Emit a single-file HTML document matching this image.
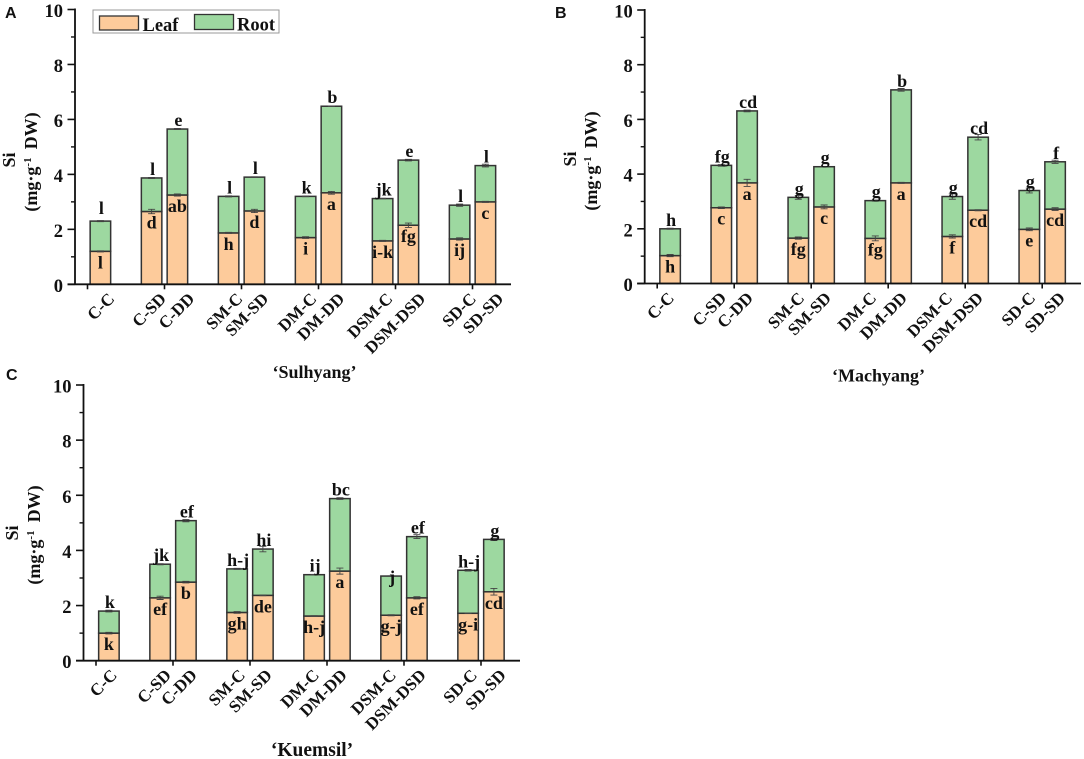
<!DOCTYPE html>
<html lang="en">
<head>
<meta charset="utf-8">
<title>Si content by treatment</title>
<style>
html,body{margin:0;padding:0;background:#fff;}
body{width:1084px;height:759px;overflow:hidden;}
svg{display:block;filter:blur(0.35px);}
text{font-family:"Liberation Serif",serif;font-weight:bold;fill:#111;}
.panel-letter{font-family:"Liberation Sans",sans-serif;font-size:16px;}
</style>
</head>
<body>
<svg id="chart" width="1084" height="759" viewBox="0 0 1084 759" xmlns="http://www.w3.org/2000/svg">
  <g>
    <rect x="93" y="10" width="186" height="23" fill="#fff" stroke="#999" stroke-width="1"/>
    <rect x="99.5" y="16" width="39" height="14" fill="#FDCB9B" stroke="#333" stroke-width="1.3"/>
    <text x="142.5" y="31" font-size="18.5">Leaf</text>
    <rect x="194.5" y="14.5" width="39" height="15" fill="#9DD8A0" stroke="#333" stroke-width="1.3"/>
    <text x="237" y="30.5" font-size="18.5">Root</text>
  </g>
</svg>
<script>
const categories = ["C-C","C-SD","C-DD","SM-C","SM-SD","DM-C","DM-DD","DSM-C","DSM-DSD","SD-C","SD-SD"];
const yTicks = [0,2,4,6,8,10];
const yMinorTicks = [1,3,5,7,9];

const leafA = [1.20,2.65,3.25,1.87,2.67,1.70,3.33,1.58,2.15,1.65,3.00];
const rootA = [1.10,1.22,2.40,1.33,1.23,1.50,3.15,1.54,2.37,1.23,1.32];
const leafErrA = [0.02,0.08,0.04,0.02,0.06,0.03,0.05,0.02,0.08,0.04,0.02];
const rootErrA = [0.02,0.02,0.02,0.02,0.01,0.01,0.01,0.01,0.03,0.04,0.05];
const topLettersA = ["l","l","e","l","l","k","b","jk","e","l","l"];
const leafLettersA = ["l","d","ab","h","d","i","a","i-k","fg","ij","c"];

const leafB = [1.02,2.77,3.68,1.66,2.80,1.65,3.68,1.72,2.68,1.98,2.72];
const rootB = [0.98,1.55,2.63,1.49,1.47,1.38,3.40,1.46,2.67,1.42,1.73];
const leafErrB = [0.04,0.03,0.13,0.04,0.07,0.09,0.02,0.06,0.02,0.05,0.05];
const rootErrB = [0.02,0.03,0.03,0.07,0.01,0.02,0.05,0.10,0.10,0.09,0.06];
const topLettersB = ["h","fg","cd","g","g","g","b","g","cd","g","f"];
const leafLettersB = ["h","c","a","fg","c","fg","a","f","cd","e","cd"];

const leafC = [1.00,2.28,2.85,1.75,2.37,1.62,3.25,1.65,2.28,1.72,2.50];
const rootC = [0.80,1.22,2.23,1.58,1.68,1.50,2.63,1.42,2.22,1.56,1.90];
const leafErrC = [0.03,0.06,0.03,0.03,0.01,0.01,0.11,0.02,0.04,0.01,0.12];
const rootErrC = [0.03,0.02,0.04,0.02,0.10,0.01,0.03,0.01,0.07,0.03,0.04];
const topLettersC = ["k","jk","ef","h-j","hi","ij","bc","j","ef","h-j","g"];
const leafLettersC = ["k","ef","b","gh","de","h-j","a","g-j","ef","g-i","cd"];

const panels = [
  {id:"a", letter:"A", lx:5, ly:18, x0:75, yTop:9.5, yZero:284.3, xEnd:511, subtitle:"‘Sulhyang’", subX:314.5, subY:378, subSize:18, siX:15, titleX:37, titleY:162,
   leaf:leafA, root:rootA, leafErr:leafErrA, rootErr:rootErrA, top:topLettersA, low:leafLettersA,
   labelShift:[15,15.5,18,15,15,12,14,11,18,17.5,19], topShift:{0:-7}},
  {id:"b", letter:"B", lx:555, ly:18, x0:644.7, yTop:10, yZero:283.5, xEnd:1081, subtitle:"‘Machyang’", subX:878.5, subY:381.5, subSize:18, siX:576, titleX:597, titleY:161,
   leaf:leafB, root:rootB, leafErr:leafErrB, rootErr:rootErrB, top:topLettersB, low:leafLettersB,
   labelShift:[5,6,7,7,8,2,7,1,6,7,11], topShift:{}},
  {id:"c", letter:"C", lx:6, ly:380, x0:83.5, yTop:385, yZero:660.7, xEnd:520, subtitle:"‘Kuemsil’", subX:312, subY:756, subSize:19.5, siX:18, titleX:40, titleY:535,
   leaf:leafC, root:rootC, leafErr:leafErrC, rootErr:rootErrC, top:topLettersC, low:leafLettersC,
   labelShift:[9,12,12,9,10,6,8,6,10,10,13], topShift:{7:7}}
];

const NS = "http://www.w3.org/2000/svg";
const svg = document.getElementById("chart");

function make(parent, tag, attrs, txt){
  const el = document.createElementNS(NS, tag);
  for (const k in attrs) el.setAttribute(k, attrs[k]);
  if (txt !== undefined) el.textContent = txt;
  parent.appendChild(el);
  return el;
}

panels.forEach(function(p){
  const yScale = function(v){ return p.yZero - v * (p.yZero - p.yTop) / 10; };
  const groupTick = function(g){ return p.x0 + 12.5 + 77 * g; };
  const groupOf = function(k){ return Math.floor((k + 1) / 2); };
  const barCenter = function(k){
    const side = (k === 0 || k % 2 === 0) ? 1 : -1;
    return groupTick(groupOf(k)) + side * 12.9;
  };

  const g = make(svg, "g", {});
  
  

  const letter = make(g, "text", {x:p.lx, y:p.ly, "class":"panel-letter"}, p.letter);
  
  

  categories.forEach(function(cat, k){
    const cx = barCenter(k);
    const w = 20.5;
    const leafTop = yScale(p.leaf[k]);
    const total = p.leaf[k] + p.root[k];
    const totalTop = yScale(total);

    const leafBar = make(g, "rect", {x:cx-w/2, y:leafTop, width:w, height:p.yZero-leafTop, fill:"#FDCB9B", stroke:"#333", "stroke-width":1.5});
    
    

    const rootBar = make(g, "rect", {x:cx-w/2, y:totalTop, width:w, height:leafTop-totalTop, fill:"#9DD8A0", stroke:"#333", "stroke-width":1.5});
    
    

    [[p.leaf[k], p.leafErr[k]], [total, p.rootErr[k]]].forEach(function(pair){
      const yHi = yScale(pair[0] + pair[1]);
      const yLo = yScale(pair[0] - pair[1]);
      const d = "M"+(cx-3.5)+" "+yHi+"H"+(cx+3.5)+"M"+(cx-3.5)+" "+yLo+"H"+(cx+3.5)+"M"+cx+" "+yHi+"V"+yLo;
      const err = make(g, "path", {d:d, fill:"none", stroke:"#444", "stroke-width":0.9});
      
      
    });

    const topDrop = p.topShift[k] !== undefined ? p.topShift[k] : -3;
    const topText = make(g, "text", {x:cx+1, y:totalTop+topDrop, "font-size":18, "text-anchor":"middle"}, p.top[k]);
    
    

    const lowText = make(g, "text", {x:cx, y:leafTop+17, "font-size":18, "text-anchor":"middle"}, p.low[k]);
    
    

    const px = cx + p.labelShift[k], py = p.yZero + 15.5;
    const xLabel = make(g, "text", {x:px, y:py, "font-size":17, "text-anchor":"end", transform:"rotate(-45 "+px+" "+py+")"}, cat);
    
    
  });

  const axisPath = "M"+p.x0+" "+(p.yTop-1)+"V"+p.yZero+"M"+(p.x0-7.5)+" "+p.yZero+"H"+p.xEnd;
  const axes = make(g, "path", {d:axisPath, fill:"none", stroke:"#111", "stroke-width":1.8});
  
  

  yTicks.forEach(function(v){
    const y = yScale(v);
    const t = make(g, "line", {x1:p.x0-7.5, x2:p.x0, y1:y, y2:y, stroke:"#111", "stroke-width":1.6});
    
    
    const lab = make(g, "text", {x:p.x0-12, y:y+7.5, "font-size":18.5, "text-anchor":"end"}, String(v));
    
    
  });
  yMinorTicks.forEach(function(v){
    const y = yScale(v);
    const t = make(g, "line", {x1:p.x0-4, x2:p.x0, y1:y, y2:y, stroke:"#111", "stroke-width":1.4});
    
    
  });
  for (let i = 0; i < 6; i++){
    const tx = groupTick(i);
    const t = make(g, "line", {x1:tx, x2:tx, y1:p.yZero, y2:p.yZero+5, stroke:"#111", "stroke-width":1.6});
    
    
  }

  const si = make(g, "text", {x:p.siX, y:p.titleY-2, "font-size":18, "text-anchor":"middle", transform:"rotate(-90 "+p.siX+" "+(p.titleY-2)+")"}, "Si");
  
  

  const unit = make(g, "text", {x:p.titleX, y:p.titleY, "font-size":18, "text-anchor":"middle", transform:"rotate(-90 "+p.titleX+" "+p.titleY+")"});
  
  
  make(unit, "tspan", {}, "(mg·g");
  make(unit, "tspan", {dy:-6, "font-size":11}, "-1");
  make(unit, "tspan", {dy:6, dx:8}, "DW)");

  const sub = make(g, "text", {x:p.subX, y:p.subY, "font-size":p.subSize, "text-anchor":"middle"}, p.subtitle);
  
  
});
</script>
</body>
</html>
